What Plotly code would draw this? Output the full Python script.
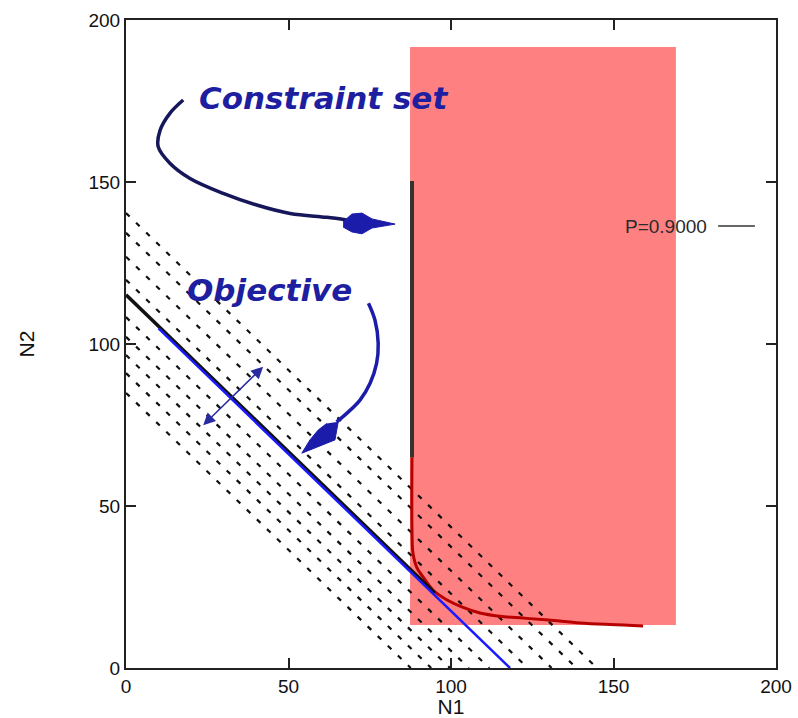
import plotly.graph_objects as go

# ---- data ----
region_n1 = [87.4, 169.2]          # feasible (chance-constraint) region extent
region_n2 = [13.3, 191.7]

constraint_n1 = [88.0, 88.0]       # vertical constraint segment
constraint_n2 = [150.3, 65.0]

boundary_n1 = [88.0, 88.0, 88.3, 89.5, 91.4, 94.5, 98.8, 103.5, 108.9, 115.0, 122.2, 130.0, 139.7, 149.0, 159.1]
boundary_n2 = [65.0, 42.6, 35.5, 31.0, 28.1, 24.0, 21.0, 18.8, 17.0, 16.0, 15.4, 14.8, 13.9, 13.4, 13.0]

objective_level = 114.5            # N2 intercept of optimal objective line
objective_slope = 0.969            # N2 drop per unit N1
dash_levels = [84.9, 91.0, 96.6, 102.2, 108.3, 119.8, 126.9, 134.3, 140.4]

blue_start_n1 = 10.0
black_end_n1 = 95.0

arrow1_n1 = [17.6, 13.5, 10.5, 9.9, 13.5, 19.7, 29.9, 40.2, 50.5, 61.8, 67.9]
arrow1_n2 = [175.3, 171.2, 166.0, 160.9, 155.8, 151.1, 146.5, 142.9, 140.3, 139.1, 138.3]
head1_n1 = [66.8, 69.5, 72.6, 75.7, 82.8, 75.7, 72.6, 69.5, 66.8]
head1_n2 = [137.7, 140.1, 140.4, 138.6, 137.0, 135.8, 134.0, 134.6, 136.1]

arrow2_n1 = [74.6, 76.6, 77.6, 77.1, 75.1, 72.0, 67.9, 64.8]
arrow2_n2 = [112.6, 107.4, 100.2, 94.0, 87.9, 82.7, 78.6, 76.0]
head2_n1 = [65.3, 64.3, 61.8, 57.6, 54.1, 56.6, 59.2, 61.8]
head2_n2 = [76.0, 70.4, 69.4, 67.8, 66.3, 70.4, 73.5, 75.5]

grad_n1 = [23.3, 42.2]             # gradient double arrow
grad_n2 = [74.5, 93.0]

tick_vals = [0, 50, 100, 150, 200]
tick_text = ["0", "50", "100", "150", "200"]

key_label = "P=0.9000"

# ---- figure ----
fig = go.Figure()

# feasible region
fig.add_trace(go.Scatter(
    x=[region_n1[0], region_n1[1], region_n1[1], region_n1[0], region_n1[0]],
    y=[region_n2[0], region_n2[0], region_n2[1], region_n2[1], region_n2[0]],
    mode="lines", fill="toself", fillcolor="rgb(255,128,128)",
    line=dict(width=0), hoverinfo="skip"))

# dashed objective level lines
dx, dy = [], []
for c in dash_levels:
    dx += [0, c / objective_slope, None]
    dy += [c, 0, None]
fig.add_trace(go.Scatter(x=dx, y=dy, mode="lines",
                         line=dict(color="#111111", width=2.2, dash="5px,9px"),
                         hoverinfo="skip"))

# constraint vertical segment
fig.add_trace(go.Scatter(x=constraint_n1, y=constraint_n2, mode="lines",
                         line=dict(color="#333333", width=4), hoverinfo="skip"))

# probability boundary
fig.add_trace(go.Scatter(x=boundary_n1, y=boundary_n2, mode="lines",
                         line=dict(color="#b80000", width=3, shape="spline"),
                         hoverinfo="skip"))

# objective line (black then blue)
fig.add_trace(go.Scatter(
    x=[0, black_end_n1],
    y=[objective_level + 0.7, objective_level + 0.7 - objective_slope * black_end_n1],
    mode="lines", line=dict(color="#111111", width=3.5), hoverinfo="skip"))
fig.add_trace(go.Scatter(
    x=[blue_start_n1, objective_level / objective_slope],
    y=[objective_level - objective_slope * blue_start_n1, 0],
    mode="lines", line=dict(color="#1a1aff", width=2.5), hoverinfo="skip"))

# annotation arrows
fig.add_trace(go.Scatter(x=arrow1_n1, y=arrow1_n2, mode="lines",
                         line=dict(color="#16165a", width=3.5, shape="spline"),
                         hoverinfo="skip"))
fig.add_trace(go.Scatter(x=head1_n1, y=head1_n2, mode="lines", fill="toself",
                         fillcolor="#1c1caa", line=dict(color="#1c1caa", width=1),
                         hoverinfo="skip"))
fig.add_trace(go.Scatter(x=arrow2_n1, y=arrow2_n2, mode="lines",
                         line=dict(color="#1c1caa", width=3.5, shape="spline"),
                         hoverinfo="skip"))
fig.add_trace(go.Scatter(x=head2_n1, y=head2_n2, mode="lines", fill="toself",
                         fillcolor="#1c1caa", line=dict(color="#1c1caa", width=1),
                         hoverinfo="skip"))

annotations = [
    dict(x=grad_n1[1], y=grad_n2[1], ax=grad_n1[0], ay=grad_n2[0],
         xref="x", yref="y", axref="x", ayref="y", text="", showarrow=True,
         arrowhead=2, startarrowhead=2, arrowside="end+start", arrowsize=1.6,
         startarrowsize=1.6, arrowwidth=1.5, arrowcolor="#2a2aa0"),
    dict(x=60.8, y=176.0, xref="x", yref="y", text="<b><i>Constraint set</i></b>",
         showarrow=False, font=dict(family="DejaVu Sans", size=31, color="#1e1ea0")),
    dict(x=44.3, y=116.8, xref="x", yref="y", text="<b><i>Objective</i></b>",
         showarrow=False, font=dict(family="DejaVu Sans", size=31, color="#1e1ea0")),
    dict(x=179.4, y=136.4, xref="x", yref="y", xanchor="right", text=key_label,
         showarrow=False, font=dict(family="Liberation Sans", size=19, color="#2a2a2a")),
]

shapes = [dict(type="line", xref="x", yref="y", x0=182.2, x1=193.5, y0=136.4, y1=136.4,
               line=dict(color="#333333", width=1.5))]

axis_common = dict(
    range=[0, 200], tickvals=tick_vals, ticktext=tick_text,
    ticks="inside", ticklen=10, tickwidth=2, tickcolor="#222222",
    showline=True, linecolor="#222222", linewidth=2, mirror="ticks",
    showgrid=False, zeroline=False, automargin=False,
    tickfont=dict(family="Liberation Sans", size=19, color="#111111"),
)

fig.update_layout(
    width=798, height=718,
    margin=dict(l=126, r=22, t=20, b=50),
    paper_bgcolor="white", plot_bgcolor="white",
    showlegend=False,
    xaxis=dict(**axis_common,
               title=dict(text="N1", standoff=0,
                          font=dict(family="Liberation Sans", size=21, color="#111111"))),
    yaxis=dict(**axis_common,
               title=dict(text="N2", standoff=48,
                          font=dict(family="Liberation Sans", size=21, color="#111111"))),
    annotations=annotations,
    shapes=shapes,
)

fig.write_html("out.html")
